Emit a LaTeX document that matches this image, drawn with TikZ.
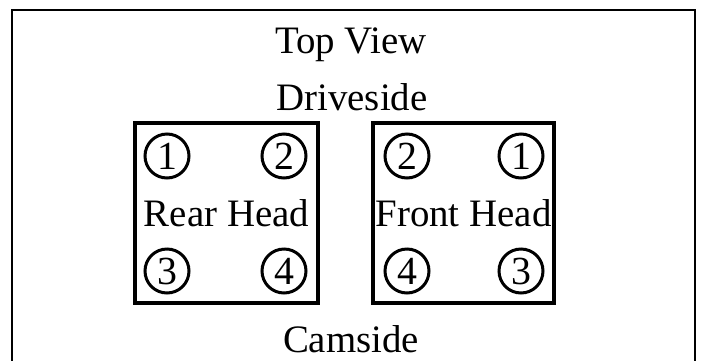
\documentclass[tikz,border=0pt]{standalone}
\usepackage{fontspec}
\setmainfont{Liberation Serif}
\begin{document}
\begin{tikzpicture}[x=1bp,y=-1bp,
  lbl/.style={font=\fontsize{39}{41}\selectfont, inner sep=0pt},
  cyl/.style={circle, draw, line width=3bp, minimum size=44bp, inner sep=0pt, font=\fontsize{40}{42}\selectfont},
  headbox/.style={draw, line width=3.5bp},
  frame/.style={draw, line width=2.8bp}]
\useasboundingbox (0,0) rectangle (701,360);
\draw[frame] (12,362) -- (12,10) -- (695,10) -- (695,362);
\node[lbl] (top) at (351,45) {Top View};
\node[lbl] (drive) at (352,97) {Driveside};
\node[lbl] (cam) at (351,339) {Camside};
% Rear head
\draw[headbox] (135,123) rectangle (318,303);
\node[lbl] (rear) at (226.5,213) {Rear Head};
\node[cyl] (r1) at (167,156) {1};
\node[cyl] (r2) at (284,156) {2};
\node[cyl] (r3) at (167,271) {3};
\node[cyl] (r4) at (284,271) {4};
% Front head
\draw[headbox] (373,123) rectangle (554,303);
\node[lbl] (front) at (463.5,213) {Front Head};
\node[cyl] (f2) at (407,156) {2};
\node[cyl] (f1) at (521,156) {1};
\node[cyl] (f4) at (407,271) {4};
\node[cyl] (f3) at (521,271) {3};
\end{tikzpicture}
\end{document}
